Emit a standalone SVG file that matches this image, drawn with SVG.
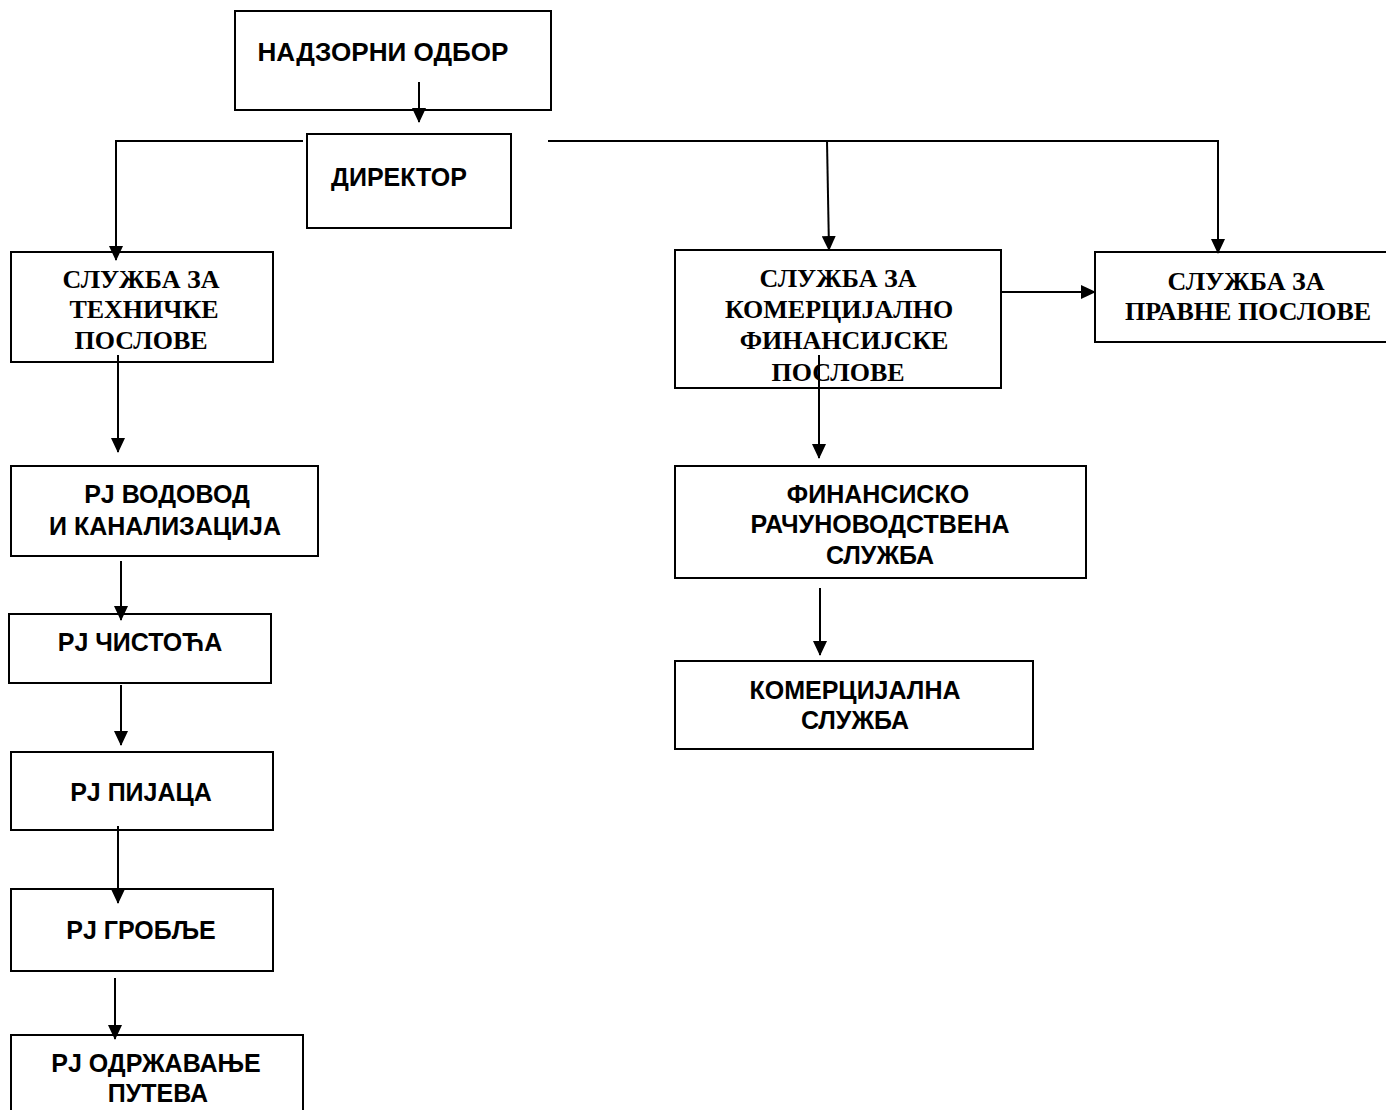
<svg xmlns="http://www.w3.org/2000/svg" width="1386" height="1110" viewBox="0 0 1386 1110">
<style>
.box{fill:#fff;stroke:#000;stroke-width:2}
.a{font-family:"Liberation Sans",Arial,sans-serif;font-weight:bold;font-size:25px;fill:#000;text-anchor:middle}
.t{font-family:"Liberation Serif","Times New Roman",serif;font-weight:bold;font-size:26px;fill:#000;text-anchor:middle}
.c{fill:none;stroke:#000;stroke-width:2}
</style>
<defs>
<marker id="ah" markerWidth="15" markerHeight="14" refX="14" refY="7" orient="auto" markerUnits="userSpaceOnUse">
<path d="M0,0 L15,7 L0,14 Z" fill="#000"/>
</marker>
<clipPath id="kclip"><rect x="676" y="251" width="324" height="130"/></clipPath>
</defs>
<rect width="1386" height="1110" fill="#fff"/>
<g id="nadzorni"><rect class="box" x="235" y="11" width="316" height="99"/><text class="a" x="383" y="61" textLength="251" lengthAdjust="spacingAndGlyphs">НАДЗОРНИ ОДБОР</text></g>
<g id="direktor"><rect class="box" x="307" y="134" width="204" height="94"/><text class="a" x="399" y="186">ДИРЕКТОР</text></g>
<g id="tehnicke"><rect class="box" x="11" y="252" width="262" height="110"/><text class="t" x="141" y="288">СЛУЖБА ЗА</text><text class="t" x="144" y="318">ТЕХНИЧКЕ</text><text class="t" x="141" y="349">ПОСЛОВЕ</text></g>
<g id="komercijalno"><rect class="box" x="675" y="250" width="326" height="138"/><g clip-path="url(#kclip)"><text class="t" x="838" y="287">СЛУЖБА ЗА</text><text class="t" x="839" y="318">КОМЕРЦИЈАЛНО</text><text class="t" x="844" y="349">ФИНАНСИЈСКЕ</text><text class="t" x="838" y="381">ПОСЛОВЕ</text></g></g>
<g id="pravne"><rect class="box" x="1095" y="252" width="300" height="90"/><text class="t" x="1246" y="290">СЛУЖБА ЗА</text><text class="t" x="1248" y="320">ПРАВНЕ ПОСЛОВЕ</text></g>
<g id="finansisko"><rect class="box" x="675" y="466" width="411" height="112"/><text class="a" x="878" y="503">ФИНАНСИСКО</text><text class="a" x="880" y="533">РАЧУНОВОДСТВЕНА</text><text class="a" x="880" y="564">СЛУЖБА</text></g>
<g id="komercijalna"><rect class="box" x="675" y="661" width="358" height="88"/><text class="a" x="855" y="699">КОМЕРЦИЈАЛНА</text><text class="a" x="855" y="729">СЛУЖБА</text></g>
<g id="vodovod"><rect class="box" x="11" y="466" width="307" height="90"/><text class="a" x="167" y="503">РЈ ВОДОВОД</text><text class="a" x="165" y="535">И КАНАЛИЗАЦИЈА</text></g>
<g id="cistoca"><rect class="box" x="9" y="614" width="262" height="69"/><text class="a" x="140" y="651">РЈ ЧИСТОЋА</text></g>
<g id="pijaca"><rect class="box" x="11" y="752" width="262" height="78"/><text class="a" x="141" y="801">РЈ ПИЈАЦА</text></g>
<g id="groblje"><rect class="box" x="11" y="889" width="262" height="82"/><text class="a" x="141" y="939">РЈ ГРОБЉЕ</text></g>
<g id="odrzavanje"><rect class="box" x="11" y="1035" width="292" height="90"/><text class="a" x="156" y="1072">РЈ ОДРЖАВАЊЕ</text><text class="a" x="158" y="1102">ПУТЕВА</text></g>
<g id="connectors">
<path class="c" d="M419,82 V122" marker-end="url(#ah)"/>
<path class="c" d="M303,141 H116 V260" marker-end="url(#ah)"/>
<path class="c" d="M548,141 H1218 V253" marker-end="url(#ah)"/>
<path class="c" d="M827,141 L829,250" marker-end="url(#ah)"/>
<path class="c" d="M1001,292 H1095" marker-end="url(#ah)"/>
<path class="c" d="M819,355 V458" marker-end="url(#ah)"/>
<path class="c" d="M820,588 V655" marker-end="url(#ah)"/>
<path class="c" d="M118,355 V452" marker-end="url(#ah)"/>
<path class="c" d="M121,561 V620" marker-end="url(#ah)"/>
<path class="c" d="M121,685 V745" marker-end="url(#ah)"/>
<path class="c" d="M118,826 V903" marker-end="url(#ah)"/>
<path class="c" d="M115,978 V1039" marker-end="url(#ah)"/>
</g>
</svg>
